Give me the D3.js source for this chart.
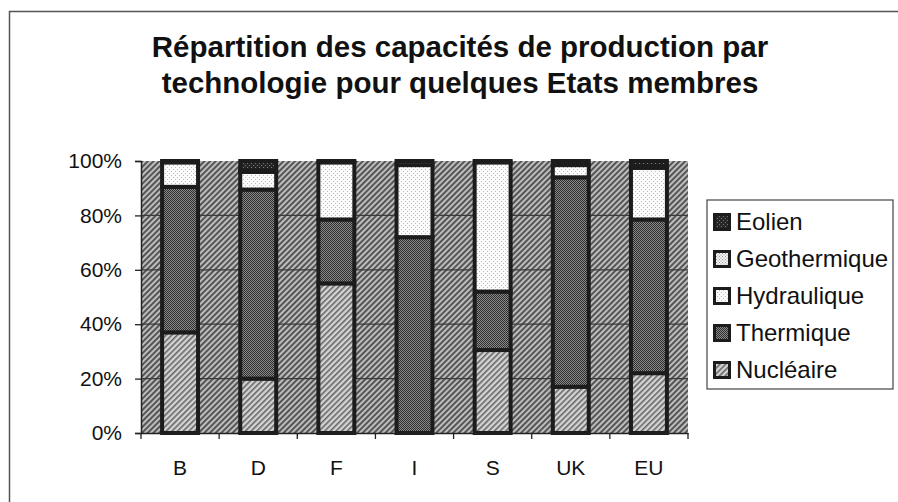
<!DOCTYPE html>
<html>
<head>
<meta charset="utf-8">
<script src="https://cdn.jsdelivr.net/npm/d3@7"></script>
<style>
  body { margin: 0; background: #fff; }
  svg text { font-family: Arial, "Liberation Sans", sans-serif; fill: #111; }
</style>
</head>
<body>
<div id="chart"></div>
<script>
// Data (percent of capacity)
const countries = ["B", "D", "F", "I", "S", "UK", "EU"];
const technologies = ["Nucléaire", "Thermique", "Hydraulique", "Geothermique", "Eolien"];
const nucleaire    = [37,   20,   55,   0,    30.5, 17,  22];
const thermique    = [53.5, 69.5, 23.5, 72,   21.5, 77,  56.5];
const hydraulique  = [9,    6.5,  21,   26.5, 47.5, 4.5, 19];
const geothermique = [0,    0.5,  0,    1.5,  0,    0,   0.5];
const eolien       = [0.5,  3.5,  0.5,  0,    0.5,  1.5, 2];
const yTicks = [0, 0.2, 0.4, 0.6, 0.8, 1];
const title = ["Répartition des capacités de production par", "technologie pour quelques Etats membres"];

const width = 898, height = 502;
const margin = {top: 161, right: 210, bottom: 69, left: 141};
const plotW = 688 - margin.left, plotH = 433 - margin.top;

const svg = d3.select("#chart").append("svg")
  .attr("width", width)
  .attr("height", height);

// Hatch / dot patterns imitating the scanned greyscale fills
const defs = svg.append("defs");

function stripes(id, bg, fg, w) {
  const p = defs.append("pattern").attr("id", id)
    .attr("patternUnits", "userSpaceOnUse")
    .attr("width", 4).attr("height", 4)
    .attr("patternTransform", "rotate(45)");
  p.append("rect").attr("width", 4).attr("height", 4).attr("fill", bg);
  p.append("rect").attr("width", w).attr("height", 4).attr("fill", fg);
}
function checker(id, a, b) {
  const p = defs.append("pattern").attr("id", id)
    .attr("patternUnits", "userSpaceOnUse")
    .attr("width", 2).attr("height", 2);
  p.append("rect").attr("width", 2).attr("height", 2).attr("fill", a);
  p.append("rect").attr("width", 1).attr("height", 1).attr("fill", b);
  p.append("rect").attr("x", 1).attr("y", 1).attr("width", 1).attr("height", 1).attr("fill", b);
}
function dots(id, bg, fg, size) {
  const p = defs.append("pattern").attr("id", id)
    .attr("patternUnits", "userSpaceOnUse")
    .attr("width", size).attr("height", size);
  p.append("rect").attr("width", size).attr("height", size).attr("fill", bg);
  p.append("rect").attr("width", 1).attr("height", 1).attr("fill", fg);
  p.append("rect").attr("x", size / 2).attr("y", size / 2).attr("width", 1).attr("height", 1).attr("fill", fg);
}

stripes("bgPat", "#bdbdbd", "#555", 2);
stripes("nucPat", "#d4d4d4", "#666", 1.6);
checker("thermPat", "#8a8a8a", "#2e2e2e");
dots("hydroPat", "#fbfbfb", "#bbb", 4);
dots("geoPat", "#f2f2f2", "#999", 3);
dots("eolPat", "#262626", "#777", 4);

const fills = {
  "Nucléaire": "url(#nucPat)",
  "Thermique": "url(#thermPat)",
  "Hydraulique": "url(#hydroPat)",
  "Geothermique": "url(#geoPat)",
  "Eolien": "url(#eolPat)"
};

// Outer frame of the scanned chart
svg.append("rect")
  .attr("x", 9.5).attr("y", 11.5)
  .attr("width", 950).attr("height", 550)
  .attr("fill", "none").attr("stroke", "#555").attr("stroke-width", 1.5);

// Title
svg.append("text")
  .attr("x", 460).attr("y", 57)
  .attr("text-anchor", "middle")
  .attr("font-size", 29.5).attr("font-weight", "bold")
  .selectAll("tspan").data(title).join("tspan")
  .attr("x", 460)
  .attr("dy", (d, i) => i === 0 ? 0 : 36)
  .text(d => d);

// Build table for the stack
const series = [nucleaire, thermique, hydraulique, geothermique, eolien];
const table = countries.map((c, i) => {
  const row = {country: c};
  technologies.forEach((t, j) => row[t] = series[j][i] / 100);
  return row;
});
const stacked = d3.stack().keys(technologies)(table);

const x = d3.scaleBand().domain(countries).range([0, plotW]).paddingInner(0.54).paddingOuter(0.27);
const y = d3.scaleLinear().domain([0, 1]).range([plotH, 0]);

const g = svg.append("g").attr("transform", `translate(${margin.left},${margin.top})`);

// Plot area background
g.append("rect")
  .attr("width", plotW).attr("height", plotH)
  .attr("fill", "url(#bgPat)");

// Gridlines
g.append("g")
  .selectAll("line").data(yTicks.slice(1, -1)).join("line")
  .attr("x1", 0).attr("x2", plotW)
  .attr("y1", d => y(d)).attr("y2", d => y(d))
  .attr("stroke", "#3a3a3a").attr("stroke-width", 1.2);

// Stacked bars, each segment with its own thick border
g.append("g")
  .selectAll("g").data(stacked).join("g")
  .attr("fill", d => fills[d.key])
  .selectAll("rect").data(d => d).join("rect")
  .attr("x", d => x(d.data.country))
  .attr("y", d => y(d[1]))
  .attr("width", x.bandwidth())
  .attr("height", d => y(d[0]) - y(d[1]))
  .attr("stroke", "#1c1c1c")
  .attr("stroke-width", 4);

// Y axis
const yAxis = g.append("g")
  .call(d3.axisLeft(y).tickValues(yTicks).tickFormat(d3.format(".0%")).tickSize(6).tickPadding(13));
yAxis.select(".domain").attr("stroke", "#222").attr("stroke-width", 1.5);
yAxis.selectAll(".tick line").attr("stroke", "#222").attr("stroke-width", 1.3);
yAxis.selectAll("text").attr("font-size", 21).attr("fill", "#111");

// X axis with ticks at category boundaries
const xAxis = g.append("g")
  .attr("transform", `translate(0,${plotH})`)
  .call(d3.axisBottom(x).tickSize(0).tickPadding(27));
xAxis.select(".domain").attr("stroke", "#222").attr("stroke-width", 1.5);
xAxis.selectAll("text").attr("font-size", 21).attr("fill", "#111");
const step = x.step();
xAxis.append("g")
  .selectAll("line").data(d3.range(countries.length + 1)).join("line")
  .attr("x1", i => i * step).attr("x2", i => i * step)
  .attr("y1", 0).attr("y2", 6)
  .attr("stroke", "#222").attr("stroke-width", 1.3);

// Legend (top entry is the top of the stack)
const legend = svg.append("g").attr("transform", "translate(707,200)");
legend.append("rect")
  .attr("width", 186).attr("height", 189)
  .attr("fill", "#fff").attr("stroke", "#444").attr("stroke-width", 1.2);
const items = legend.selectAll("g.item").data(technologies.slice().reverse()).join("g")
  .attr("class", "item")
  .attr("transform", (d, i) => `translate(6,${22 + i * 37})`);
items.append("rect")
  .attr("x", 1.5).attr("y", -7.5)
  .attr("width", 15).attr("height", 15)
  .attr("fill", d => fills[d])
  .attr("stroke", "#1c1c1c").attr("stroke-width", 3);
items.append("text")
  .attr("x", 23).attr("dy", "0.35em")
  .attr("font-size", 24)
  .text(d => d);
</script>
</body>
</html>
